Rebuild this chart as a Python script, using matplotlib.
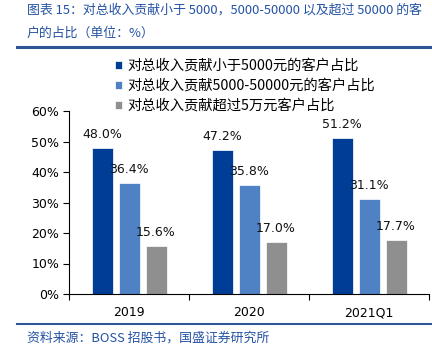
import matplotlib.pyplot as plt
import numpy as np
from matplotlib.ticker import FixedLocator

plt.rcParams['font.family'] = ['DejaVu Sans', 'Noto Sans CJK SC']

categories = ["2019", "2020", "2021Q1"]
under_5000 = [48.0, 47.2, 51.2]
mid_5000_50000 = [36.4, 35.8, 31.1]
over_50000 = [15.6, 17.0, 17.7]
series_names = [
    "对总收入贡献小于5000元的客户占比",
    "对总收入贡献5000-50000元的客户占比",
    "对总收入贡献超过5万元客户占比",
]
colors = ["#003d96", "#4f81c5", "#8f8f8f"]

cjk = ['Noto Sans CJK SC', 'DejaVu Sans']
title_blue = "#2452a4"

fig = plt.figure(figsize=(4.32, 3.54), dpi=100)
ax = fig.add_axes([69 / 432, 1 - 294 / 354, 360 / 432, 183 / 354])

x = np.arange(len(categories))
w = 0.175
off = 0.225
for i, (vals, name, c) in enumerate(zip([under_5000, mid_5000_50000, over_50000],
                                         series_names, colors)):
    bars = ax.bar(x + (i - 1) * off, vals, w, color=c, edgecolor="white",
                  linewidth=0.5, label=name)
    for b, v in zip(bars, vals):
        ax.annotate(f"{v:.1f}%", (b.get_x() + b.get_width() / 2, v),
                    xytext=(0, 5), textcoords="offset points",
                    ha="center", va="bottom", fontsize=9, color="#111111")

ax.set_xlim(-0.5, 2.5)
ax.set_ylim(0, 60)
ax.set_yticks(range(0, 61, 10))
ax.set_yticklabels([f"{t}%" for t in range(0, 61, 10)], fontsize=9)
ax.xaxis.set_major_locator(FixedLocator([-0.5, 0.5, 1.5, 2.5]))
ax.set_xticklabels([])
ax.set_xticks(x, minor=True)
ax.set_xticklabels(categories, minor=True, fontsize=9)
ax.tick_params(axis="x", which="minor", length=0, pad=9)
ax.tick_params(axis="x", which="major", length=4, direction="out")
ax.tick_params(axis="y", length=4, direction="out", pad=3)
for s in ["top", "right"]:
    ax.spines[s].set_visible(False)

fig.legend(loc="upper left", bbox_to_anchor=(109 / 432, 1 - 53 / 354),
           frameon=False, prop={"family": cjk, "size": 10.3},
           handlelength=0.5, handleheight=0.5, handletextpad=0.35,
           labelspacing=0.42, borderaxespad=0)

# header and footer
fig.text(27 / 432, 1 - 10 / 354, "图表 15：对总收入贡献小于 5000，5000-50000 以及超过 50000 的客",
         family=cjk, fontsize=9.3, color=title_blue, va="center")
fig.text(27 / 432, 1 - 33 / 354, "户的占比（单位：%）",
         family=cjk, fontsize=9.3, color=title_blue, va="center")
fig.add_artist(plt.Line2D([17 / 432, 1], [1 - 47 / 354] * 2, color="#2f5597", lw=2.2))
fig.add_artist(plt.Line2D([17 / 432, 1], [1 - 324 / 354] * 2, color="#2f5597", lw=1.5))
fig.text(27 / 432, 1 - 338 / 354, "资料来源：BOSS 招股书，国盛证券研究所",
         family=cjk, fontsize=9.3, color=title_blue, va="center")

fig.savefig("out.png", dpi=100)
